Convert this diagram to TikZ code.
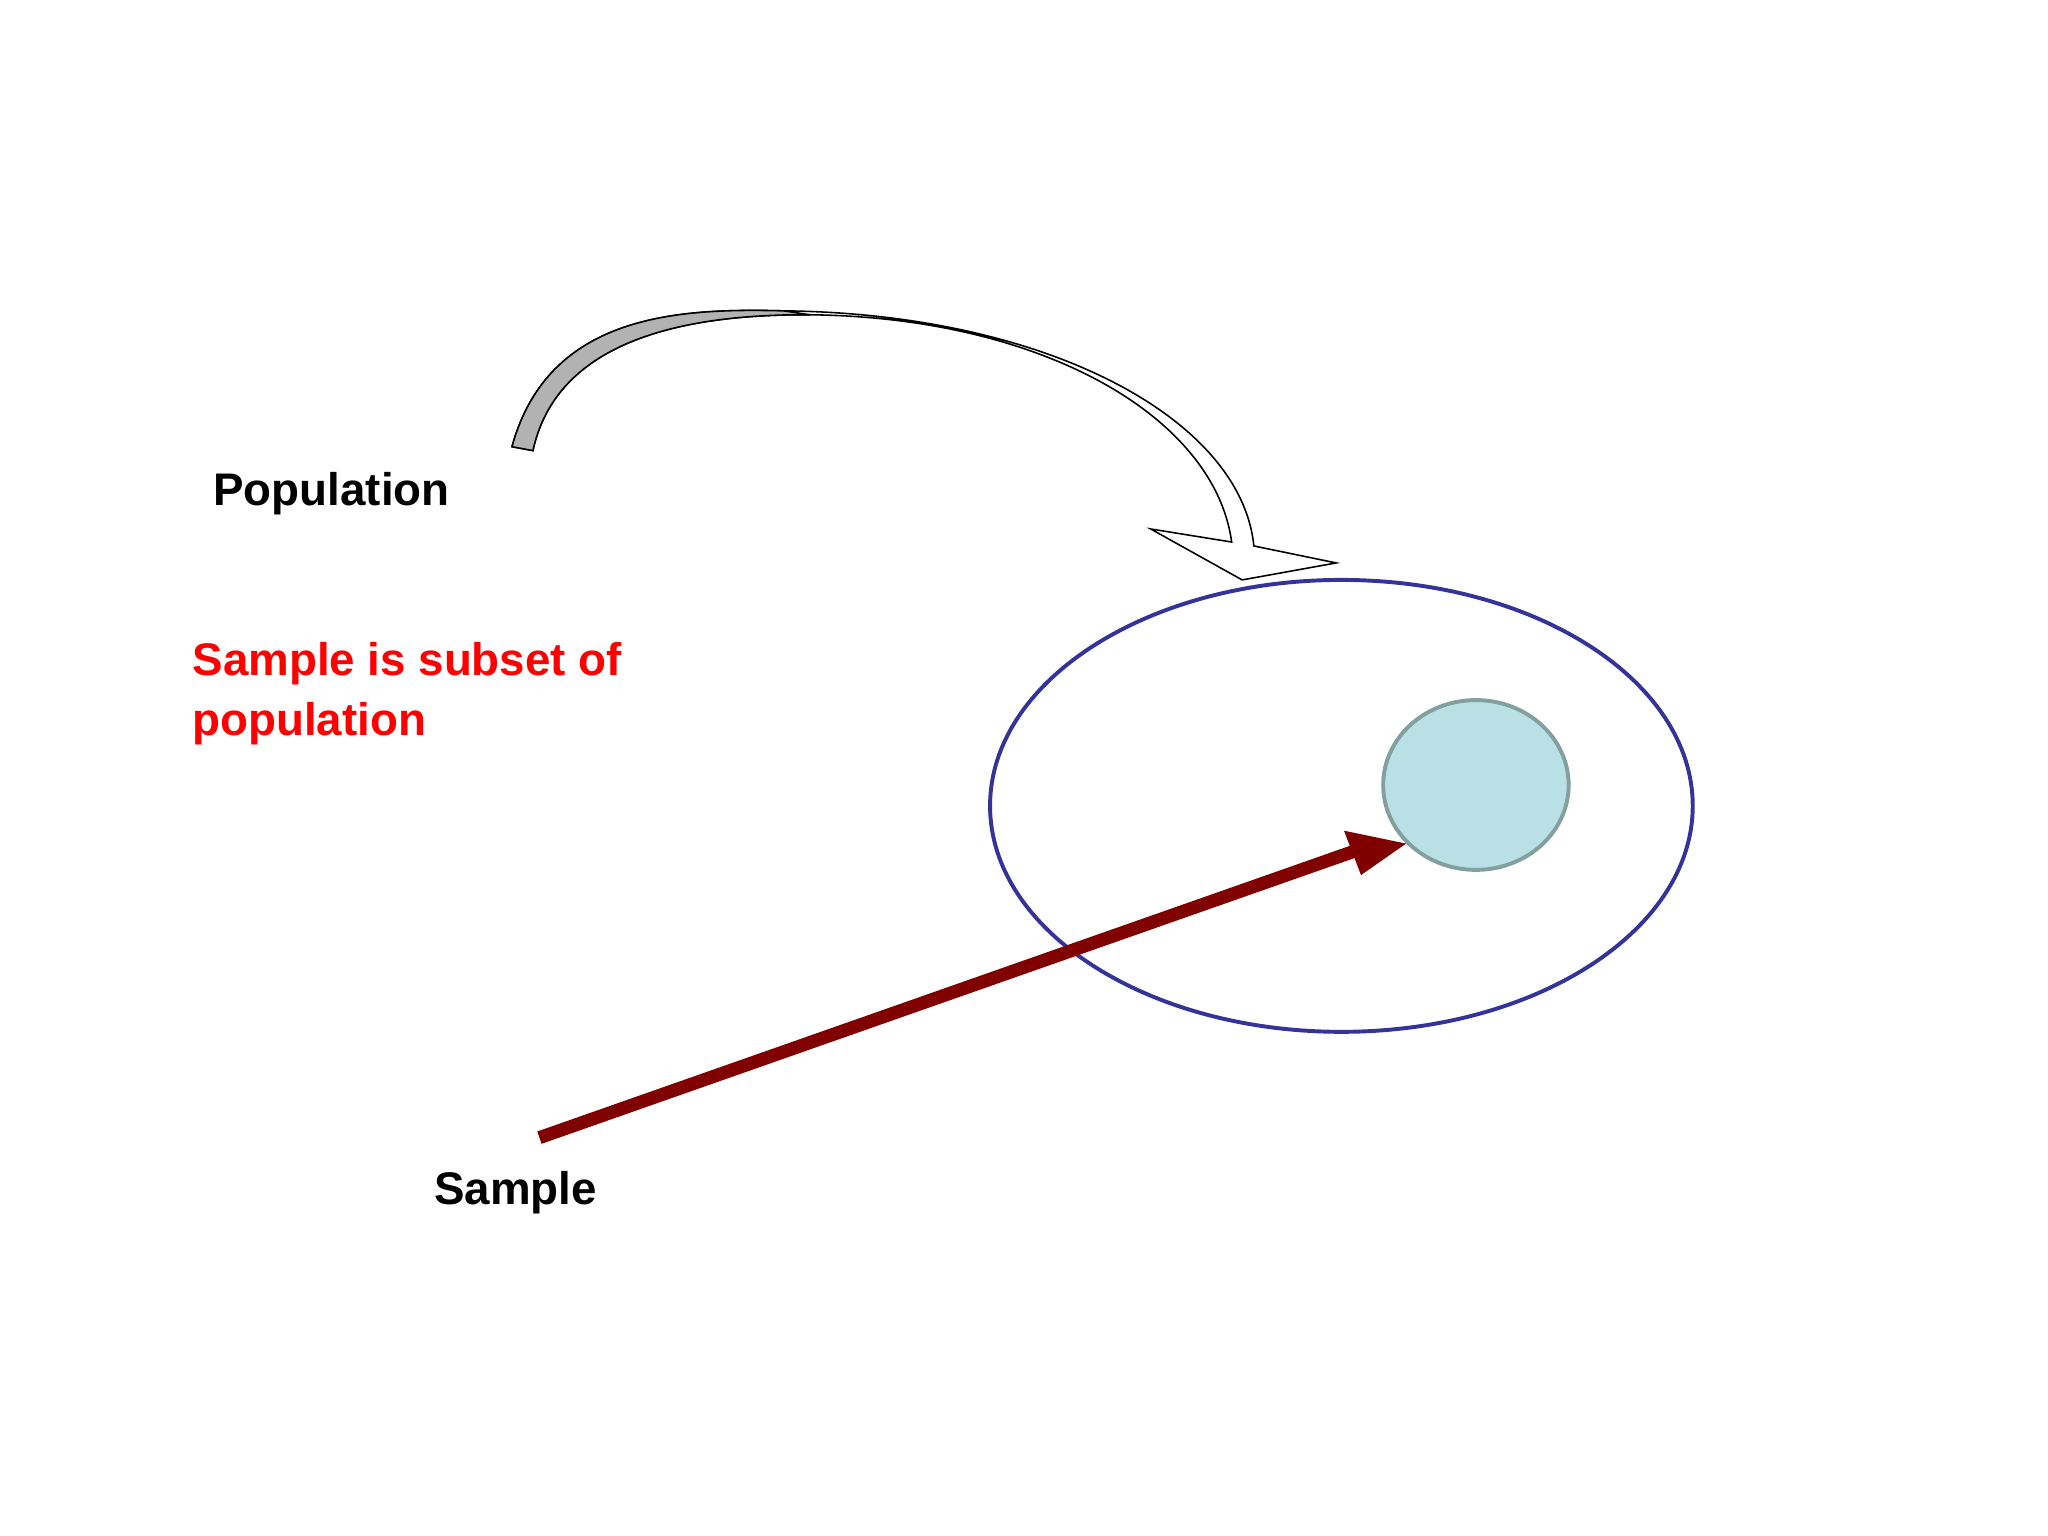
\documentclass[tikz,border=0pt]{standalone}
\usepackage{fontspec}
\setmainfont{Liberation Sans}
\usetikzlibrary{shapes.geometric}
\begin{document}
\begin{tikzpicture}[x=0.5pt,y=-0.5pt,
  lbl/.style={anchor=base west,font=\fontsize{17.5}{22}\selectfont\bfseries,inner sep=0pt},
  line join=miter]
\useasboundingbox (0,0) rectangle (1568,1176);
\definecolor{popblue}{RGB}{51,51,153}
\definecolor{sampfill}{RGB}{185,224,228}
\definecolor{sampline}{RGB}{130,160,160}
\definecolor{darkred}{RGB}{128,0,0}
% curved block arrow
\draw[fill=white,line width=0.6pt] (392,342) .. controls (420,240) and (520,236) .. (600,238)
  .. controls (800,240) and (950,320) .. (960,418) -- (1023,431) -- (951,444) -- (881,405) -- (943,415)
  .. controls (930,320) and (800,243) .. (620,241) .. controls (470,240) and (420,290) .. (408,345) -- cycle;
\draw[fill=black!30,line width=0.6pt] (392,342) .. controls (420,240) and (520,236) .. (600,238)
  -- (620,241) .. controls (470,240) and (420,290) .. (408,345) -- cycle;
\node[draw=popblue,line width=1.5pt,ellipse,minimum width=269pt,minimum height=173pt,inner sep=0pt] (pop) at (1027,617) {};
\node[draw=sampline,fill=sampfill,line width=1.5pt,ellipse,minimum width=71pt,minimum height=65pt,inner sep=0pt] (samp) at (1130,601) {};
\coordinate (s0) at (413,871);
\coordinate (tipbase) at (1036,652);
\draw[darkred,line width=5pt] (s0) -- (tipbase);
\fill[darkred] (1029,636) -- (samp.220) -- (1042,670) -- cycle;
\node[lbl] (ptext) at (163,387) {Population};
\node[lbl,text=red] (sub1) at (147,517) {Sample is subset of};
\node[lbl,text=red] (sub2) at (147,563) {population};
\node[lbl] (stext) at (332,922) {Sample};
\end{tikzpicture}
\end{document}
